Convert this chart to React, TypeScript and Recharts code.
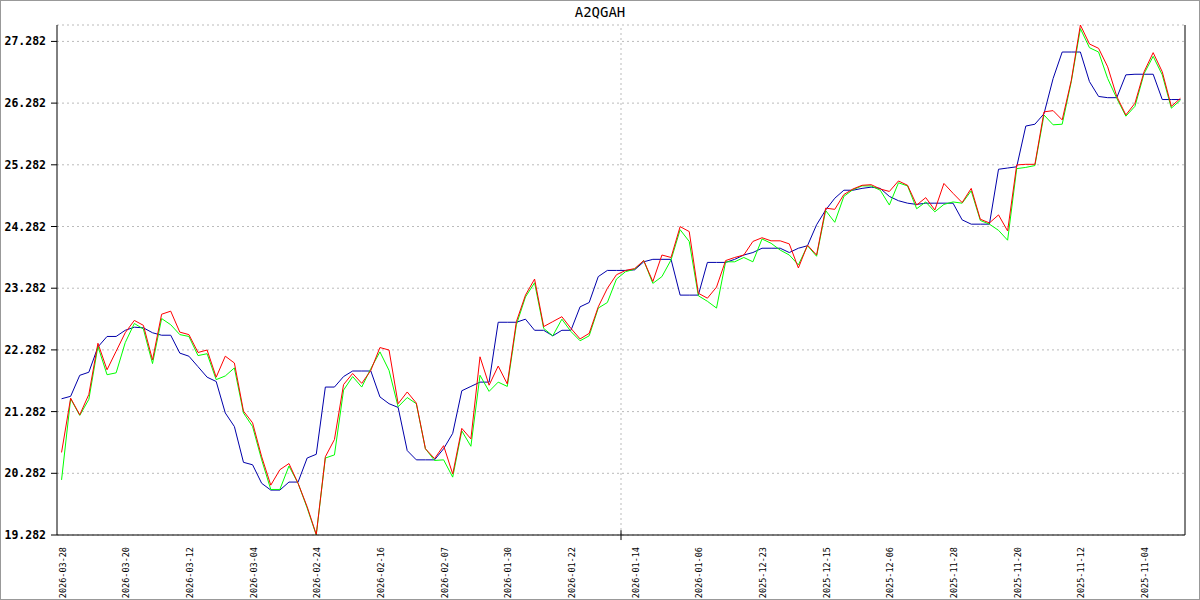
import React from "react";
import {
  LineChart,
  Line,
  XAxis,
  YAxis,
  CartesianGrid,
  ReferenceLine,
} from "recharts";

// date labels, one every 7 points (newest on the left)
const dateLabels = [
  "2026-03-28", "2026-03-20", "2026-03-12", "2026-03-04", "2026-02-24",
  "2026-02-16", "2026-02-07", "2026-01-30", "2026-01-22", "2026-01-14",
  "2026-01-06", "2025-12-23", "2025-12-15", "2025-12-06", "2025-11-28",
  "2025-11-20", "2025-11-12", "2025-11-04",
];

const yTicks = [19.282, 20.282, 21.282, 22.282, 23.282, 24.282, 25.282, 26.282, 27.282];

const redValues = [
  20.62, 21.5, 21.23, 21.56, 22.39, 21.96, 22.26, 22.56, 22.76, 22.68,
  22.12, 22.86, 22.91, 22.57, 22.53, 22.24, 22.28, 21.84, 22.18, 22.07,
  21.29, 21.1, 20.55, 20.09, 20.34, 20.44, 20.12, 19.74, 19.29, 20.55,
  20.83, 21.72, 21.9, 21.74, 21.95, 22.32, 22.28, 21.41, 21.6, 21.42,
  20.68, 20.52, 20.73, 20.27, 21.01, 20.84, 22.17, 21.71, 22.02, 21.73,
  22.74, 23.17, 23.43, 22.66, 22.74, 22.82, 22.63, 22.46, 22.55, 22.98,
  23.28, 23.5, 23.57, 23.6, 23.73, 23.39, 23.82, 23.78, 24.28, 24.2,
  23.2, 23.12, 23.3, 23.73, 23.78, 23.82, 24.04, 24.1, 24.05, 24.05,
  24.0, 23.61, 23.98, 23.82, 24.58, 24.56, 24.8, 24.89, 24.95, 24.96,
  24.89, 24.85, 25.02, 24.95, 24.63, 24.75, 24.55, 24.98, 24.82, 24.67,
  24.9, 24.4, 24.34, 24.47, 24.21, 25.28, 25.29, 25.29, 26.14, 26.16,
  26.01, 26.65, 27.548, 27.24, 27.17, 26.87, 26.39, 26.09, 26.28, 26.79,
  27.1, 26.79, 26.23, 26.36,
];

const greenValues = [
  20.175, 21.49, 21.22, 21.48, 22.34, 21.88, 21.91, 22.4, 22.71, 22.62,
  22.06, 22.79, 22.69, 22.53, 22.5, 22.19, 22.22, 21.8, 21.86, 21.99,
  21.26, 21.04, 20.5, 20.02, 20.02, 20.4, 20.12, 19.72, 19.282, 20.53,
  20.58, 21.63, 21.85, 21.68, 21.98, 22.25, 21.95, 21.36, 21.51, 21.41,
  20.68, 20.49, 20.5, 20.22, 20.97, 20.72, 21.87, 21.61, 21.76, 21.69,
  22.69, 23.14, 23.37, 22.63, 22.51, 22.78, 22.58, 22.43, 22.51, 22.96,
  23.05, 23.43, 23.55, 23.59, 23.73, 23.36, 23.47, 23.74, 24.23, 24.04,
  23.16, 23.07, 22.96, 23.71, 23.71, 23.78, 23.71, 24.08, 24.01, 23.9,
  23.82, 23.66, 23.97, 23.8, 24.54, 24.35, 24.77, 24.88, 24.94, 24.94,
  24.87, 24.63, 24.99, 24.94, 24.57, 24.68, 24.52, 24.64, 24.68, 24.66,
  24.86, 24.38, 24.32, 24.22, 24.06, 25.22, 25.24, 25.27, 26.09, 25.93,
  25.94, 26.63, 27.49, 27.18, 27.11, 26.68, 26.36, 26.07, 26.23, 26.76,
  27.04, 26.74, 26.2, 26.33,
];

const blueValues = [
  21.49, 21.53, 21.87, 21.92, 22.33, 22.5, 22.5, 22.6, 22.65, 22.64,
  22.56, 22.52, 22.52, 22.23, 22.18, 22.01, 21.84, 21.77, 21.26, 21.04,
  20.46, 20.42, 20.12, 20.01, 20.01, 20.14, 20.14, 20.53, 20.59, 21.68,
  21.68, 21.85, 21.94, 21.94, 21.94, 21.52, 21.41, 21.35, 20.65, 20.5,
  20.5, 20.5, 20.68, 20.93, 21.62, 21.69, 21.76, 21.76, 22.73, 22.73,
  22.73, 22.78, 22.6, 22.6, 22.51, 22.6, 22.6, 22.98, 23.05, 23.47,
  23.57, 23.57, 23.57, 23.58, 23.71, 23.75, 23.75, 23.75, 23.17, 23.17,
  23.17, 23.7, 23.7, 23.7, 23.75, 23.82, 23.86, 23.93, 23.93, 23.93,
  23.86, 23.93, 23.97, 24.31, 24.55, 24.74, 24.87, 24.87, 24.9, 24.92,
  24.9, 24.77, 24.7, 24.66, 24.64, 24.66, 24.66, 24.66, 24.66, 24.39,
  24.32, 24.32, 24.32, 25.21, 25.23, 25.25, 25.91, 25.94, 26.11, 26.68,
  27.11, 27.11, 27.11, 26.63, 26.39, 26.37, 26.37, 26.74, 26.75, 26.75,
  26.75, 26.34, 26.34, 26.34,
];

const data = redValues.map((red, i) => ({
  idx: i,
  red,
  green: greenValues[i],
  blue: blueValues[i],
}));

const xTicks = dateLabels.map((_, i) => i * 7);
const lastIdx = redValues.length - 1;
const midIdx = lastIdx / 2;

const MONO = "'DejaVu Sans Mono', monospace";

// rotated date label, reads bottom to top
const DateTick = (props: any) => {
  const { x, payload } = props;
  const tx = x + 4;
  const ty = 547;
  return (
    <text
      x={tx}
      y={ty}
      transform={`rotate(-90 ${tx} ${ty})`}
      textAnchor="end"
      fontFamily={MONO}
      fontSize={8.5}
      fill="#000"
    >
      {dateLabels[payload.value / 7]}
    </text>
  );
};

const App: React.FC = () => {
  return (
    <div style={{ position: "relative", width: 1200, height: 600, background: "#fff" }}>
      <style>{`body{margin:0}`}</style>
      <div
        style={{
          position: "absolute",
          top: 4,
          left: 0,
          width: 1200,
          textAlign: "center",
          fontFamily: MONO,
          fontSize: 14,
          color: "#000",
        }}
      >
        A2QGAH
      </div>
      <LineChart
        width={1200}
        height={600}
        data={data}
        margin={{ top: 25, right: 15, bottom: 0, left: 0 }}
      >
        <CartesianGrid
          vertical={false}
          stroke="#bbb"
          strokeDasharray="2 3"
        />
        <XAxis
          dataKey="idx"
          type="number"
          domain={[-0.5, lastIdx + 0.5]}
          ticks={xTicks}
          interval={0}
          tickLine={false}
          height={65}
          axisLine={{ stroke: "#000" }}
          tick={<DateTick />}
        />
        <YAxis
          type="number"
          domain={[19.282, 27.548]}
          ticks={yTicks}
          interval={0}
          width={57}
          tickSize={6}
          tickMargin={5}
          axisLine={{ stroke: "#000" }}
          tickLine={{ stroke: "#000" }}
          tickFormatter={(v: number) => v.toFixed(3)}
          tick={{ fontFamily: MONO, fontSize: 11.5, fontWeight: "bold", fill: "#000" }}
        />
        <ReferenceLine x={midIdx} stroke="#bbb" strokeDasharray="2 3" />
        <ReferenceLine
          segment={[{ x: midIdx, y: 19.2 }, { x: midIdx, y: 19.36 }]}
          ifOverflow="visible"
          stroke="#000"
        />
        <ReferenceLine x={lastIdx + 0.5} stroke="#000" />
        <Line
          type="linear"
          dataKey="blue"
          stroke="#0000aa"
          strokeWidth={1}
          dot={false}
          isAnimationActive={false}
        />
        <Line
          type="linear"
          dataKey="green"
          stroke="#00ff00"
          strokeWidth={1}
          dot={false}
          isAnimationActive={false}
        />
        <Line
          type="linear"
          dataKey="red"
          stroke="#ff0000"
          strokeWidth={1}
          dot={false}
          isAnimationActive={false}
        />
      </LineChart>
      <div
        style={{
          position: "absolute",
          inset: 0,
          border: "1px solid #999",
          pointerEvents: "none",
        }}
      />
    </div>
  );
};

export default App;
